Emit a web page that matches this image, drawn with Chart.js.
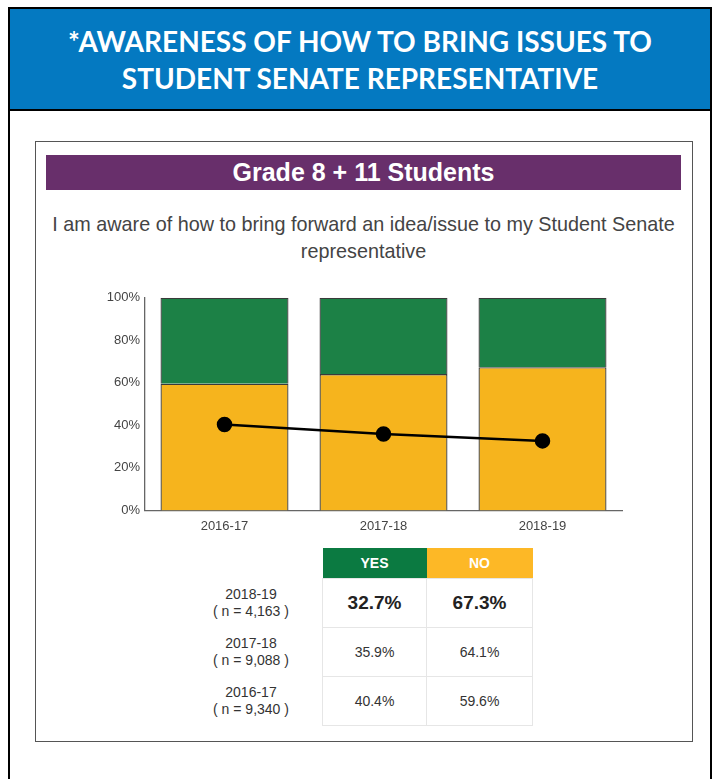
<!DOCTYPE html>
<html>
<head>
<meta charset="utf-8">
<script src="https://cdn.jsdelivr.net/npm/chart.js@4"></script>
<style>
  body { margin: 0; background: #fff; font-family: "Liberation Sans", Arial, sans-serif; }
  #page { position: relative; width: 717px; height: 779px; overflow: hidden; }
  #frame { position: absolute; left: 8px; top: 7px; width: 700px; height: 790px; border: 2px solid #000; }
  #header { position: absolute; left: 10px; top: 9px; width: 700px; height: 102px; background: #0479c1;
            border-bottom: 2px solid #000; color: #fff; font-family: "Lato", sans-serif; font-weight: bold;
            font-size: 28px; line-height: 37px; text-align: center; padding-top: 14px; box-sizing: border-box; }
  #box { position: absolute; left: 35px; top: 141px; width: 656px; height: 599px; border: 1px solid #555; }
  #band { position: absolute; left: 46px; top: 155px; width: 635px; height: 35px; background: #682f6b;
          color: #fff; font-weight: bold; font-size: 25px; line-height: 35px; text-align: center; }
  #question { position: absolute; left: 40px; top: 211px; width: 647px; text-align: center; color: #444;
              font-size: 19.8px; line-height: 27px; }
  #chartWrap { position: absolute; left: 60px; top: 285px; width: 580px; height: 253px; }
  table { position: absolute; left: 180px; top: 548px; border-collapse: collapse; }
  td { text-align: center; padding: 0; }
  td.lab { width: 142px; height: 49px; font-size: 14px; color: #333; line-height: 17px; }
  td.val { border: 1px solid #e6e6e6; height: 48px; font-size: 14px; color: #333; }
  td.big { font-size: 19px; font-weight: bold; color: #222; }
  th { height: 30px; color: #fff; font-size: 14px; font-weight: bold; padding: 0; }
</style>
</head>
<body>
<div id="page">
  <div id="frame"></div>
  <div id="header">*AWARENESS OF HOW TO BRING ISSUES TO<br>STUDENT SENATE REPRESENTATIVE</div>
  <div id="box"></div>
  <div id="band">Grade 8 + 11 Students</div>
  <div id="question">I am aware of how to bring forward an idea/issue to my Student Senate<br>representative</div>
  <div id="chartWrap"><canvas id="chart" width="580" height="253"></canvas></div>
  <table id="tbl"></table>
</div>
<script>
// chart data
var years = ['2016-17', '2017-18', '2018-19'];
var yesValues = [40.4, 35.9, 32.7];
var noValues = [59.6, 64.1, 67.3];
var sampleSizes = ['9,340', '9,088', '4,163'];
var yTicks = [0, 20, 40, 60, 80, 100];

var green = '#1c8146';
var yellow = '#f6b41d';

var ctx = document.getElementById('chart').getContext('2d');
var chart = new Chart(ctx, {
    type: 'bar',
    data: {
        labels: years,
        datasets: [
            {
                type: 'line',
                label: 'Yes trend',
                data: yesValues,
                yAxisID: 'y2',
                borderColor: '#000',
                backgroundColor: '#000',
                borderWidth: 2.5,
                pointRadius: 6.5,
                pointBackgroundColor: '#000',
                tension: 0,
                order: 0
            },
            {
                label: 'NO',
                data: noValues,
                backgroundColor: yellow,
                borderColor: '#3a3a3a',
                borderWidth: 1.3,
                stack: 's',
                order: 1
            },
            {
                label: 'YES',
                data: yesValues,
                backgroundColor: green,
                borderColor: '#3a3a3a',
                borderWidth: 1.3,
                stack: 's',
                order: 1
            }
        ]
    },
    options: {
        responsive: false,
        animation: false,
        layout: { padding: { top: 9, right: 18, bottom: 0, left: 0 } },
        datasets: { bar: { barPercentage: 0.805, categoryPercentage: 1 } },
        scales: {
            x: {
                stacked: true,
                grid: { display: false, tickLength: 4 },
                border: { display: true, color: '#666', width: 1.3 },
                ticks: { color: '#444', font: { family: 'Liberation Sans', size: 13 }, padding: 4 }
            },
            y: {
                stacked: true,
                min: 0,
                max: 100,
                afterFit: function (scale) { scale.width = 85; },
                afterBuildTicks: function (scale) { scale.ticks = yTicks.map(function (v) { return { value: v }; }); },
                grid: { display: false, tickLength: 0 },
                border: { display: true, color: '#666', width: 1.3 },
                ticks: {
                    color: '#444',
                    padding: 5,
                    font: { family: 'Liberation Sans', size: 13 },
                    callback: function (v) { return v + '%'; }
                }
            },
            y2: { display: false, min: 0, max: 100 }
        },
        plugins: {
            legend: { display: false },
            tooltip: { enabled: false }
        }
    }
});

// results table, newest year first
var tbl = document.getElementById('tbl');
var html = '<tr><th></th><th style="background:#0b7a41;width:104px">YES</th><th style="background:#fdb826;width:106px">NO</th></tr>';
for (var i = years.length - 1; i >= 0; i--) {
    var cls = i === years.length - 1 ? 'val big' : 'val';
    html += '<tr><td class="lab">' + years[i] + '<br>( n = ' + sampleSizes[i] + ' )</td>' +
        '<td class="' + cls + '">' + yesValues[i].toFixed(1) + '%</td>' +
        '<td class="' + cls + '">' + noValues[i].toFixed(1) + '%</td></tr>';
}
tbl.innerHTML = html;
</script>
</body>
</html>
